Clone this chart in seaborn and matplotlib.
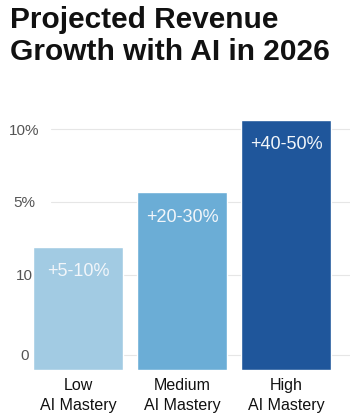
import matplotlib
matplotlib.use("Agg")
import matplotlib.pyplot as plt
import seaborn as sns
import pandas as pd

# 데이터
categories = ["Low\nAI Mastery", "Medium\nAI Mastery", "High\nAI Mastery"]
bar_height = [1.62, 2.34, 3.29]
bar_labels = ["+5-10%", "+20-30%", "+40-50%"]
bar_colors = ["#a2cbe3", "#6badd6", "#1f569b"]
tick_pos = [0.2, 1.25, 2.21, 3.17]
tick_labels = ["0", "10", "5%", "10%"]

sns.set_theme(style="white")
plt.rcParams["font.family"] = ["Liberation Sans", "DejaVu Sans"]

df = pd.DataFrame({"cat": categories, "val": bar_height})

fig = plt.figure(figsize=(3.52, 4.18), dpi=100)
ax = fig.add_axes([34 / 352, 48 / 418, 316 / 352, 260 / 418])

# 그리드 라인
for t in tick_pos:
    ax.axhline(t, xmin=0.055, color="#e6e6e6", lw=0.8, zorder=0)

sns.barplot(data=df, x="cat", y="val", hue="cat", palette=bar_colors,
            width=0.86, legend=False, ax=ax, zorder=2, saturation=1)

# 막대 안의 라벨
for i, (h, lab) in enumerate(zip(bar_height, bar_labels)):
    ax.text(i, h - 0.33, lab, ha="center", va="center", color="#f2f6fa",
            fontsize=13, zorder=3)

ax.set_xlim(-0.423, 2.615)
ax.set_ylim(0, 3.42)
ax.set_yticks(tick_pos)
ax.set_yticklabels(tick_labels, color="#555555", fontsize=11)
for lab in ax.get_yticklabels():
    lab.set_horizontalalignment("center")
ax.tick_params(axis="y", length=0, pad=7)
ax.tick_params(axis="x", length=0, pad=6)
for lab in ax.get_xticklabels():
    lab.set_fontsize(11.5)
    lab.set_color("#111111")
    lab.set_linespacing(1.35)
ax.set_xlabel("")
ax.set_ylabel("")
sns.despine(ax=ax, left=True, bottom=True)

# 제목
fig.text(10 / 352, 1 - 6 / 418, "Projected Revenue\nGrowth with AI in 2026",
         ha="left", va="top", fontsize=21.5, fontweight="bold",
         color="#111111", linespacing=1.2)

fig.savefig("out.png", dpi=100)
